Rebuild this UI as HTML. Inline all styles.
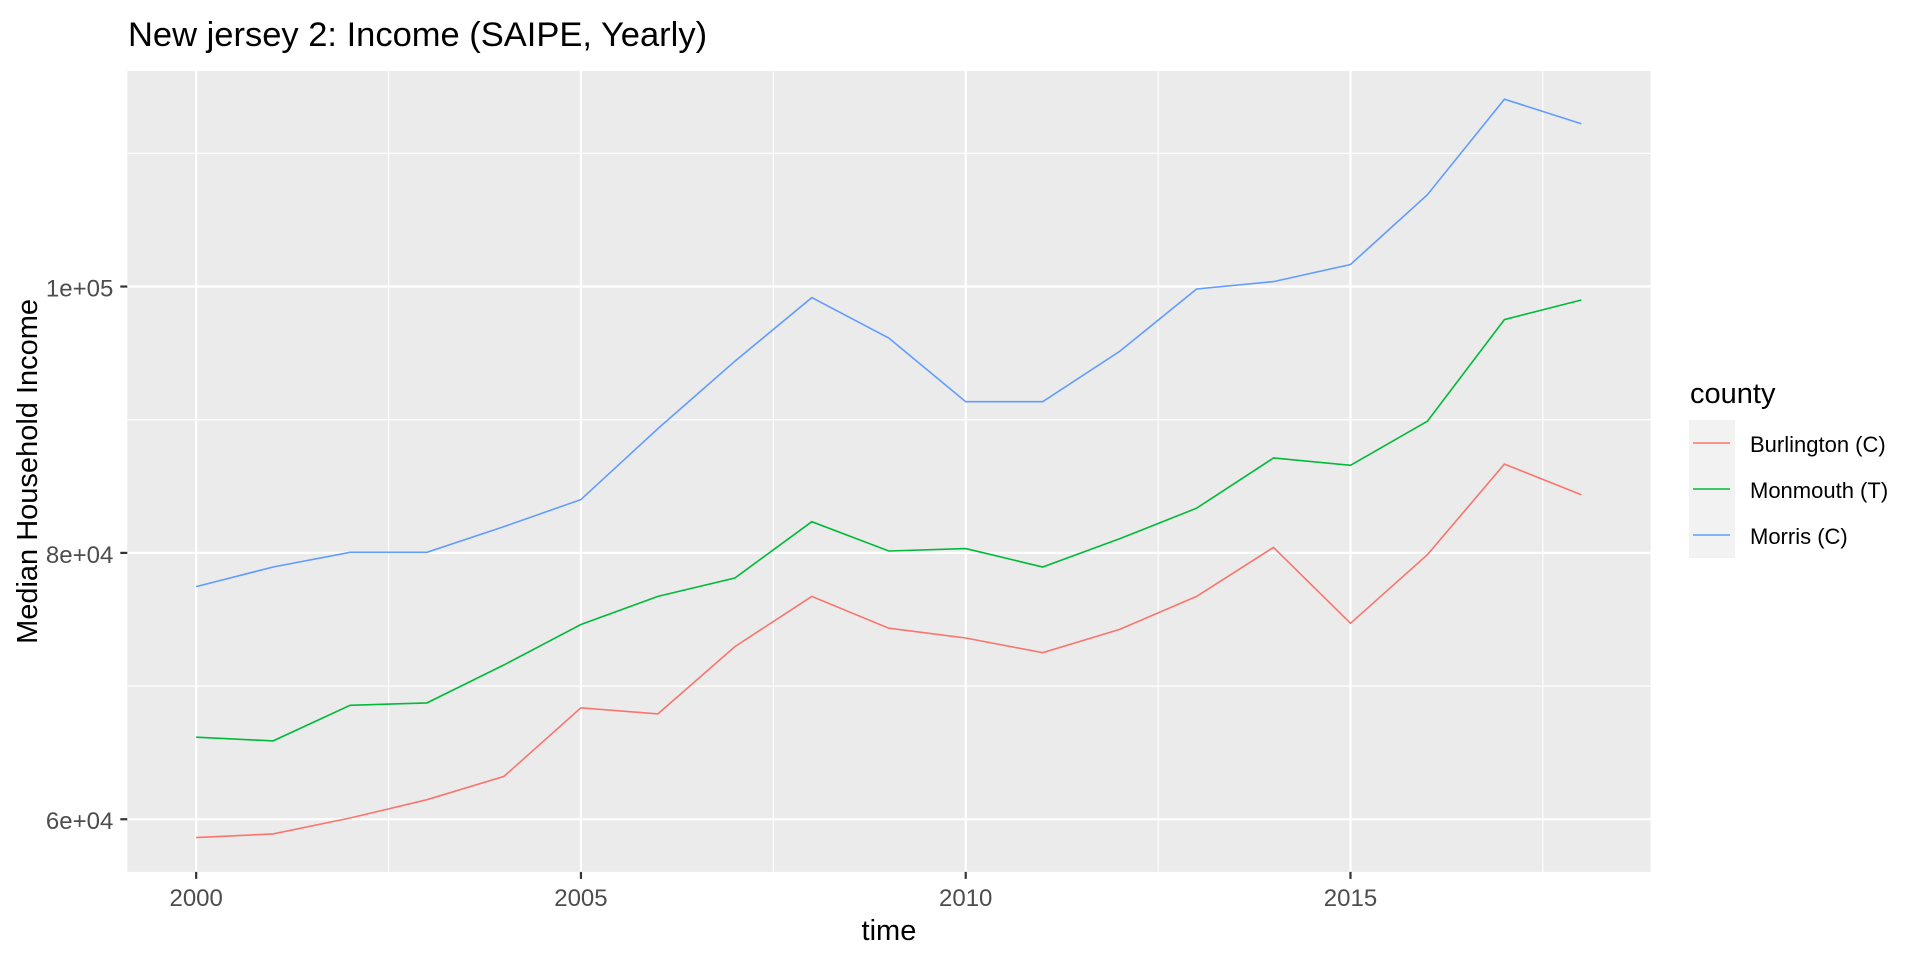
<!DOCTYPE html>
<html><head><meta charset="utf-8"><style>
html,body{margin:0;padding:0;background:#fff;width:1920px;height:960px;overflow:hidden}
svg text{font-family:"Liberation Sans",Arial,sans-serif}
</style></head><body>
<svg id="chart" width="1920" height="960" xmlns="http://www.w3.org/2000/svg"></svg>
<script>
const years = [2000,2001,2002,2003,2004,2005,2006,2007,2008,2009,2010,2011,2012,2013,2014,2015,2016,2017,2018];
const burlington = [58621,58897,60092,61471,63218,68368,67908,72966,76736,74345,73609,72506,74253,76736,80414,74713,79862,86667,84368];
const monmouth = [66161,65885,68552,68736,71586,74621,76736,78115,82345,80138,80322,78943,81057,83356,87126,86575,89885,97517,98989];
const morris = [77471,78943,80046,80046,81977,84000,89333,94391,99172,96138,91356,91356,95126,99816,100368,101655,106897,114069,112230];
const seriesNames = ["Burlington (C)","Monmouth (T)","Morris (C)"];
const seriesColors = ["#F8766D","#00BA38","#619CFF"];
const xTicks = [2000,2005,2010,2015];
const xTickLabels = ["2000","2005","2010","2015"];
const yTicks = [60000,80000,100000];
const yTickLabels = ["6e+04","8e+04","1e+05"];

const NS="http://www.w3.org/2000/svg";
const svg=document.getElementById('chart');
const P={l:127.3,r:1650.6,t:71,b:871.9};
const xMin=1999.105,xMax=2018.9,yMin=56046,yMax=116184;
const X=v=>P.l+(v-xMin)/(xMax-xMin)*(P.r-P.l);
const Y=v=>P.b-(v-yMin)/(yMax-yMin)*(P.b-P.t);
function mk(tag,attrs,parent){const e=document.createElementNS(NS,tag);for(const k in attrs)e.setAttribute(k,attrs[k]);(parent||svg).appendChild(e);return e;}

const panel=mk('rect',{x:P.l,y:P.t,width:P.r-P.l,height:P.b-P.t,fill:'#EBEBEB'});



for(let i=0;i<xTicks.length;i++){
  const m=xTicks[i]+2.5;
  if(m<xMax){const l=mk('line',{x1:X(m),x2:X(m),y1:P.t,y2:P.b,stroke:'#fff','stroke-width':1.1});
  
  }
}
for(let i=0;i<yTicks.length;i++){
  for(const m of [yTicks[i]-10000,yTicks[i]+10000]){
    if(m>yMin&&m<yMax&&!yTicks.includes(m)){const l=mk('line',{x1:P.l,x2:P.r,y1:Y(m),y2:Y(m),stroke:'#fff','stroke-width':1.1});
    
    }
  }
}
xTicks.forEach((t,i)=>{
  const l=mk('line',{x1:X(t),x2:X(t),y1:P.t,y2:P.b,stroke:'#fff','stroke-width':2.2});
  
  
  const tk=mk('line',{x1:X(t),x2:X(t),y1:P.b,y2:P.b+7,stroke:'#333','stroke-width':2.2});
  
  
  const tx=mk('text',{x:X(t),y:906,'text-anchor':'middle','font-size':24,fill:'#4D4D4D'});
  tx.textContent=xTickLabels[i];
  
  
});
yTicks.forEach((t,i)=>{
  const l=mk('line',{x1:P.l,x2:P.r,y1:Y(t),y2:Y(t),stroke:'#fff','stroke-width':2.2});
  
  
  const tk=mk('line',{x1:P.l-7,x2:P.l,y1:Y(t),y2:Y(t),stroke:'#333','stroke-width':2.2});
  
  
  const tx=mk('text',{x:P.l-14,y:Y(t)+10,'text-anchor':'end','font-size':24,fill:'#4D4D4D'});
  tx.textContent=yTickLabels[i];
  
  
});
[burlington,monmouth,morris].forEach((s,i)=>{
  const d=s.map((v,j)=>(j?'L':'M')+X(years[j]).toFixed(1)+','+Y(v).toFixed(1)).join(' ');
  const p=mk('path',{d:d,fill:'none',stroke:seriesColors[i],'stroke-width':1.6});
  
  
});
const title=mk('text',{x:128,y:46,'font-size':34.5,fill:'#000'});
title.textContent='New jersey 2: Income (SAIPE, Yearly)';


const xt=mk('text',{x:(P.l+P.r)/2,y:940,'text-anchor':'middle','font-size':29,fill:'#000'});
xt.textContent='time';


const yt=mk('text',{x:0,y:0,'text-anchor':'middle','font-size':29,fill:'#000',transform:'translate(37,'+((P.t+P.b)/2)+') rotate(-90)'});
yt.textContent='Median Household Income';


const lt=mk('text',{x:1690,y:403,'font-size':29,fill:'#000'});
lt.textContent='county';


seriesNames.forEach((n,i)=>{
  const y0=420+i*46;
  const g=mk('g',{});
  
  
  mk('rect',{x:1689,y:y0,width:46,height:46,fill:'#F2F2F2'},g);
  mk('line',{x1:1693,x2:1730,y1:y0+23,y2:y0+23,stroke:seriesColors[i],'stroke-width':1.6},g);
  const t=mk('text',{x:1750,y:y0+32,'font-size':22,fill:'#000'},g);
  t.textContent=n;
});
</script>
</body></html>
